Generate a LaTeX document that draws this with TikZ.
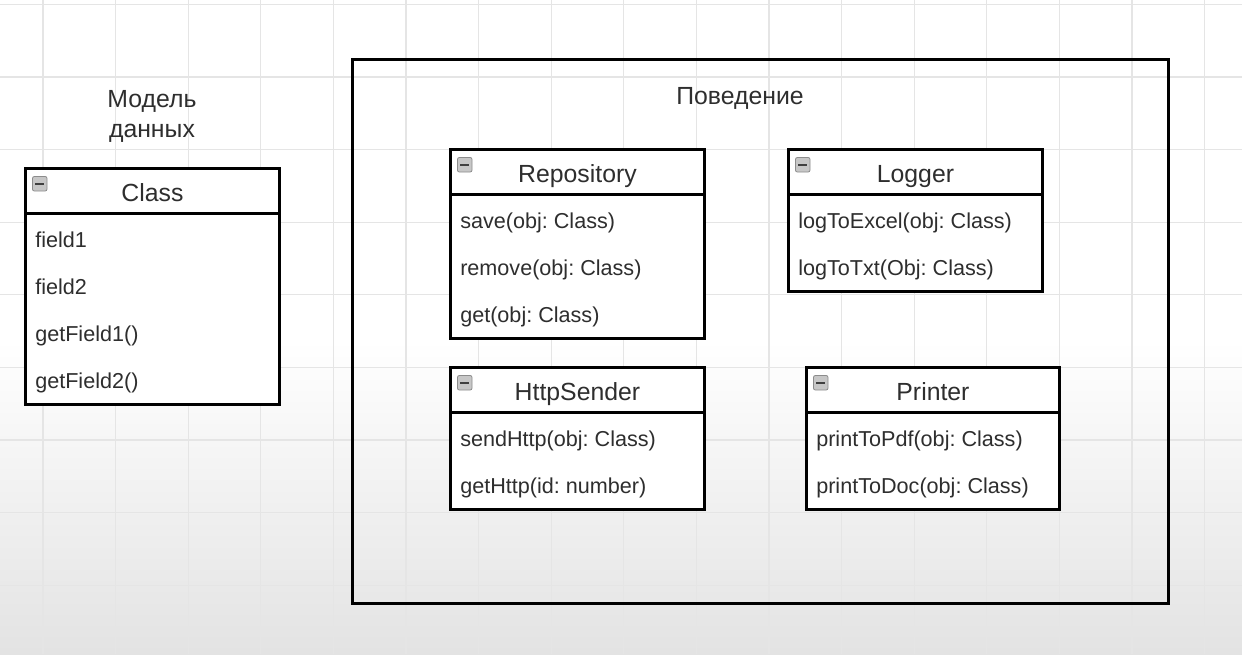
\documentclass[tikz,border=0pt]{standalone}
\usepackage{fontspec}
\setmainfont{Liberation Sans}
\usetikzlibrary{calc}
\frenchspacing
\tikzset{
  gridline/.style={draw=black!10, line width=0.9pt},
  classbox/.style={draw=black, line width=2.2pt, inner sep=0pt, fill=white},
  sepline/.style={draw=black, line width=2.2pt},
  outerbox/.style={draw=black, line width=2.4pt, inner sep=0pt},
  titletext/.style={text=black!82, font=\fontsize{18.6}{22}\selectfont, inner sep=0pt},
  itemtext/.style={text=black!82, font=\fontsize{16.2}{19}\selectfont, inner sep=0pt},
  iconbox/.style={draw=black!45, fill=black!22, rounded corners=1.6pt, line width=0.6pt, minimum width=11pt, minimum height=11pt, inner sep=0pt},
  iconbar/.style={draw=black!75, line width=1.3pt},
}
\newcommand{\umlclass}[6]{%
  \node[classbox, anchor=north west, minimum width=#4*0.75pt, minimum height=#5*0.75pt] (#1) at (#2,#3) {};
  \draw[sepline] ($(#1.north west)+(0,46.5)$) -- ($(#1.north east)+(0,46.5)$);
  \node[titletext, anchor=base] (#1-title) at ($(#1.north)+(0,34.5)$) {#6};
  \node[iconbox, anchor=north west] (#1-icon) at ($(#1.north west)+(8,9)$) {};
  \draw[iconbar] ($(#1-icon.west)+(3,0)$) -- ($(#1-icon.east)+(-3,0)$);
}
\newcommand{\umlitem}[3]{%
  \node[itemtext, anchor=base west] (#1-#2) at ($(#1.north west)+(11,{80+47*(#2-1)})$) {#3};
}
\begin{document}
\begin{tikzpicture}[x=0.75pt,y=-0.75pt]
\useasboundingbox (0,0) rectangle (1242,654);
% background
\fill[white] (0,0) rectangle (1242,340);
\shade[top color=white, bottom color=black!11] (0,340) rectangle (1242,654);
\foreach \k in {0,...,16} {\draw[gridline] ({43+72.6*\k},0) -- ({43+72.6*\k},654);}
\foreach \k in {0,...,8} {\draw[gridline] (0,{4.4+72.6*\k}) -- (1242,{4.4+72.6*\k});}

% data model
\node[titletext, anchor=base] (modellabel1) at (152,107) {Модель};
\node[titletext, anchor=base] (modellabel2) at (152,137) {данных};
\umlclass{cls}{24}{167}{254}{236}{Class}
\umlitem{cls}{1}{field1}
\umlitem{cls}{2}{field2}
\umlitem{cls}{3}{getField1()}
\umlitem{cls}{4}{getField2()}

% behaviour
\node[outerbox, anchor=north west, minimum width=816*0.75pt, minimum height=544*0.75pt] (behav) at (351,58) {};
\node[titletext, anchor=base] (behavlabel) at (740,104) {Поведение};

\umlclass{repo}{449}{148}{254}{189}{Repository}
\umlitem{repo}{1}{save(obj: Class)}
\umlitem{repo}{2}{remove(obj: Class)}
\umlitem{repo}{3}{get(obj: Class)}

\umlclass{logger}{787}{148}{254}{142}{Logger}
\umlitem{logger}{1}{logToExcel(obj: Class)}
\umlitem{logger}{2}{logToTxt(Obj: Class)}

\umlclass{http}{449}{366}{254}{142}{HttpSender}
\umlitem{http}{1}{sendHttp(obj: Class)}
\umlitem{http}{2}{getHttp(id: number)}

\umlclass{printer}{805}{366}{253}{142}{Printer}
\umlitem{printer}{1}{printToPdf(obj: Class)}
\umlitem{printer}{2}{printToDoc(obj: Class)}
\end{tikzpicture}
\end{document}
